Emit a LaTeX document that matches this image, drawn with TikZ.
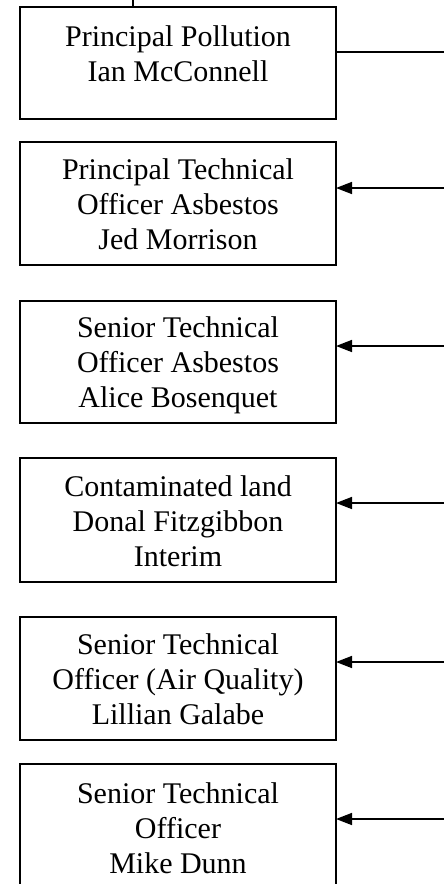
\documentclass[tikz,border=0pt]{standalone}
\usepackage{fontspec}
\setmainfont{Liberation Serif}
\usetikzlibrary{arrows.meta}
\begin{document}
\begin{tikzpicture}[x=1pt,y=-1pt,
  box/.style={draw, line width=1.8pt, minimum width=316pt, outer sep=0pt, inner sep=0pt, anchor=north west},
  txt/.style={align=center, anchor=north, inner sep=0pt, font=\fontsize{30}{35}\selectfont},
  conn/.style={line width=1.5pt},
  arr/.style={conn, -{Triangle[length=16pt,width=12pt]}}]
\useasboundingbox (0,0) rectangle (444,884);
% boxes
\node[box, minimum height=112pt] (b1) at (20,7) {};
\node[box, minimum height=123pt] (b2) at (20,142) {};
\node[box, minimum height=122pt] (b3) at (20,301) {};
\node[box, minimum height=124pt] (b4) at (20,458) {};
\node[box, minimum height=123pt] (b5) at (20,617) {};
\node[box, minimum height=123pt] (b6) at (20,764) {};
% texts
\node[txt] (t1) at (178,25.5) {Principal Pollution\\Ian McConnell};
\node[txt] (t2) at (178,158.5) {Principal Technical\\Officer Asbestos\\Jed Morrison};
\node[txt] (t3) at (178,316.5) {Senior Technical\\Officer Asbestos\\Alice Bosenquet};
\node[txt] (t4) at (178,475.5) {Contaminated land\\Donal Fitzgibbon\\Interim};
\node[txt] (t5) at (178,633.5) {Senior Technical\\Officer (Air Quality)\\Lillian Galabe};
\node[txt] (t6) at (178,782.5) {Senior Technical\\Officer\\Mike Dunn};
% connectors
\coordinate (top) at (133,0);
\draw[conn] (top) -- (top |- b1.north);
\coordinate (r1) at (444,52);
\coordinate (r2) at (444,188);
\coordinate (r3) at (444,346);
\coordinate (r4) at (444,503);
\coordinate (r5) at (444,662);
\coordinate (r6) at (444,819);
\draw[conn] (r1 -| b1.east) -- (r1);
\draw[arr] (r2) -- (r2 -| b2.east);
\draw[arr] (r3) -- (r3 -| b3.east);
\draw[arr] (r4) -- (r4 -| b4.east);
\draw[arr] (r5) -- (r5 -| b5.east);
\draw[arr] (r6) -- (r6 -| b6.east);
\end{tikzpicture}
\end{document}
